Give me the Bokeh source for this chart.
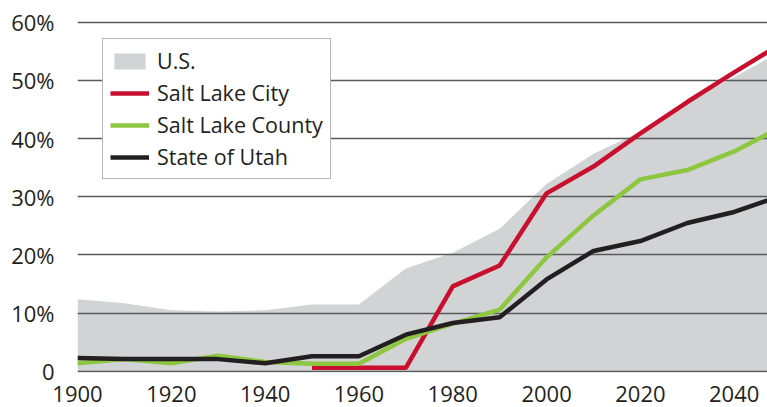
from bokeh.plotting import figure
from bokeh.models import Range1d, FixedTicker, Legend, LegendItem
from bokeh.embed import file_html
from bokeh.resources import INLINE

years = [1900, 1910, 1920, 1930, 1940, 1950, 1960, 1970, 1980, 1990, 2000, 2010, 2020, 2030, 2040, 2050]
us = [12.4, 11.7, 10.5, 10.3, 10.5, 11.5, 11.5, 17.7, 20.4, 24.5, 32.2, 37.4, 41.2, 46.3, 50.6, 55.0]
county = [1.4, 2.1, 1.4, 2.7, 1.6, 1.3, 1.3, 5.6, 8.2, 10.6, 19.6, 26.8, 33.0, 34.6, 37.8, 42.0]
state = [2.3, 2.1, 2.1, 2.1, 1.4, 2.6, 2.6, 6.3, 8.3, 9.3, 15.8, 20.7, 22.4, 25.5, 27.4, 30.2]
city_years = [1950, 1960, 1970, 1980, 1990, 2000, 2010, 2020, 2030, 2040, 2050]
city = [0.6, 0.6, 0.6, 14.6, 18.2, 30.6, 35.2, 40.9, 46.3, 51.4, 56.3]

x_ticks = [1900, 1920, 1940, 1960, 1980, 2000, 2020, 2040]
y_ticks = [0, 10, 20, 30, 40, 50, 60]
y_labels = {0: "0", 10: "10%", 20: "20%", 30: "30%", 40: "40%", 50: "50%", 60: "60%"}

FONT = "Open Sans"
TXT = "#231f20"

p = figure(width=767, height=407, output_backend="svg", toolbar_location=None,
           x_range=Range1d(1900, 2047.1), y_range=Range1d(-0.2, 61.0),
           min_border_left=77, min_border_right=0, min_border_top=16, min_border_bottom=35)
p.outline_line_color = None
p.background_fill_color = "white"
p.border_fill_color = "white"

area = p.varea(x=years, y1=0, y2=us, fill_color="#d1d3d4", level="image")
r_city = p.line(x=city_years, y=city, line_color="#c8102e", line_width=4.5)
r_county = p.line(x=years, y=county, line_color="#8dc63f", line_width=4.5)
r_state = p.line(x=years, y=state, line_color="#231f20", line_width=4.5)

p.xgrid.visible = False
p.ygrid.ticker = FixedTicker(ticks=y_ticks)
p.ygrid.grid_line_color = "#58595b"
p.ygrid.grid_line_width = 1.3

for ax in (p.xaxis[0], p.yaxis[0]):
    ax.axis_line_color = None
    ax.major_tick_line_color = None
    ax.minor_tick_line_color = None
    ax.major_tick_out = 0
    ax.major_tick_in = 0
    ax.major_label_text_font = FONT
    ax.major_label_text_font_size = "22px"
    ax.major_label_text_color = TXT

p.xaxis.ticker = FixedTicker(ticks=x_ticks)
p.xaxis.major_label_standoff = 13
p.yaxis.ticker = FixedTicker(ticks=y_ticks)
p.yaxis.major_label_overrides = y_labels
p.yaxis.major_label_standoff = 23

legend = Legend(items=[
    LegendItem(label="U.S.", renderers=[area]),
    LegendItem(label="Salt Lake City", renderers=[r_city]),
    LegendItem(label="Salt Lake County", renderers=[r_county]),
    LegendItem(label="State of Utah", renderers=[r_state]),
], location=(25, 193))
legend.label_text_font = FONT
legend.label_text_font_size = "21.5px"
legend.label_text_color = TXT
legend.glyph_width = 39
legend.glyph_height = 20
legend.label_height = 20
legend.label_standoff = 8
legend.spacing = 3
legend.padding = 7
legend.margin = 0
legend.border_line_color = "#6d6e71"
legend.border_line_width = 1.5
legend.background_fill_color = "white"
legend.background_fill_alpha = 1.0
p.add_layout(legend, "center")

open("out.html", "w").write(file_html(p, INLINE))
